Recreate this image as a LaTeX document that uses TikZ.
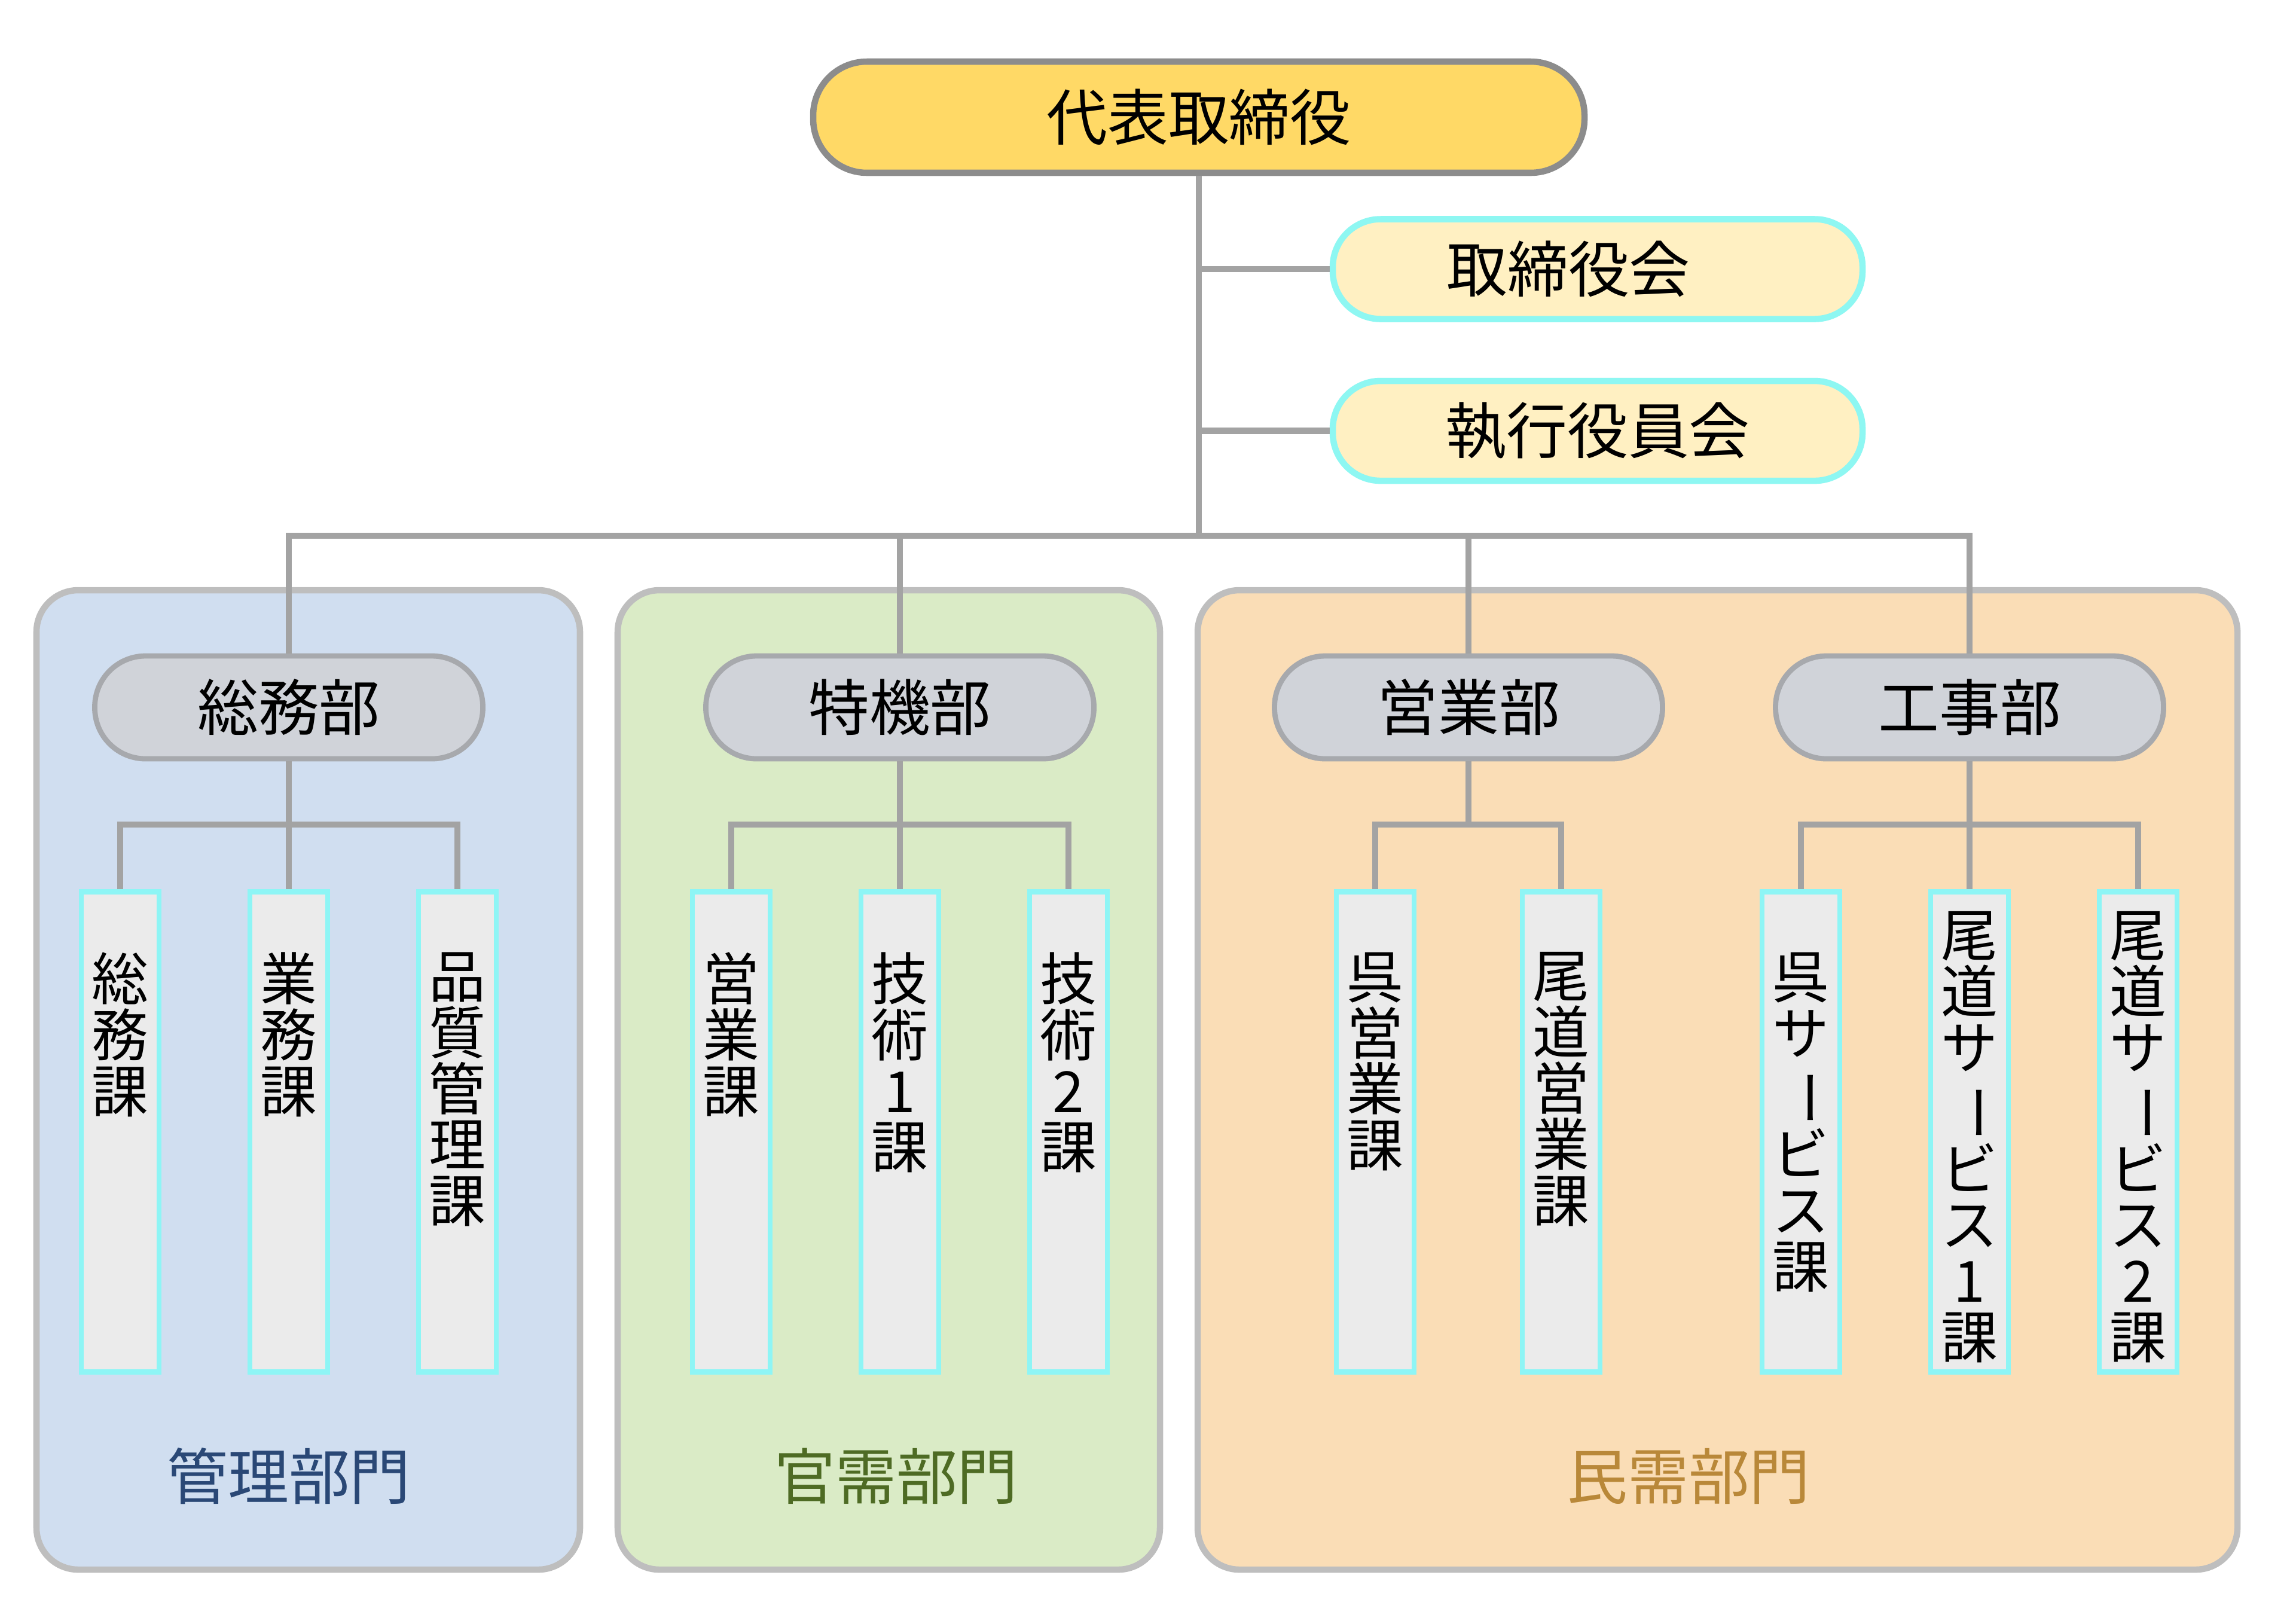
\documentclass[tikz,border=0pt]{standalone}
\usepackage{fontspec}
\setmainfont{Noto Sans CJK JP}
\usepackage{graphicx}
\usetikzlibrary{positioning}

\definecolor{ceofill}{HTML}{FFD966}
\definecolor{ceoline}{HTML}{8C8C8C}
\definecolor{boardfill}{HTML}{FFF0C2}
\definecolor{boardline}{HTML}{8EF7F2}
\definecolor{deptfill}{HTML}{D0D3D9}
\definecolor{deptline}{HTML}{A7A9AD}
\definecolor{sectfill}{HTML}{EBEBEB}
\definecolor{sectline}{HTML}{8EF5F5}
\definecolor{groupline}{HTML}{BEBEBE}
\definecolor{linegray}{HTML}{A3A3A3}
\definecolor{kanribg}{HTML}{D0DEF0}
\definecolor{kanjubg}{HTML}{DAEBC6}
\definecolor{minjubg}{HTML}{FADDB6}
\definecolor{kanritext}{HTML}{2A4876}
\definecolor{kanjutext}{HTML}{4E6B24}
\definecolor{minjutext}{HTML}{B98839}

\newcommand{\choon}{\rotatebox[origin=c]{-90}{ー}}

\begin{document}
\begin{tikzpicture}[
        ceo/.style={rectangle, rounded corners=0.9cm, fill=ceofill, draw=ceoline, line width=3pt,
            minimum width=12.9cm, minimum height=1.86cm, font=\fontsize{29}{30}\selectfont},
        board/.style={rectangle, rounded corners=0.8cm, fill=boardfill, draw=boardline, line width=3pt,
            minimum width=8.86cm, minimum height=1.67cm, font=\fontsize{29}{30}\selectfont},
        dept/.style={rectangle, rounded corners=0.85cm, fill=deptfill, draw=deptline, line width=2.5pt,
            minimum width=6.49cm, minimum height=1.72cm, font=\fontsize{29}{30}\selectfont},
        sect/.style={rectangle, fill=sectfill, draw=sectline, line width=2.5pt,
            minimum width=1.3cm, minimum height=8.03cm, anchor=north},
        vtxt/.style={align=center, inner sep=0pt, font=\fontsize{27}{26.7}\selectfont},
        group/.style={rounded corners=0.7cm, draw=groupline, line width=3pt},
        glabel/.style={font=\fontsize{29}{30}\selectfont},
        conn/.style={draw=linegray, line width=3pt}
        ]
        \useasboundingbox (0,0) rectangle (38.4,-27.15);
        \fill[white] (0,0) rectangle (38.4,-27.15);

        \draw[group, fill=kanribg] (0.61,-9.87) rectangle (9.70,-26.25);
        \draw[group, fill=kanjubg] (10.33,-9.87) rectangle (19.40,-26.25);
        \draw[group, fill=minjubg] (20.03,-9.87) rectangle (37.42,-26.25);

        \node (ceo) [ceo] at (20.05,-1.96) {代表取締役};
        \node (bd1) [board] at (26.72,-4.50) {取締役会\hspace*{0.98cm}\mbox{}};
        \node (bd2) [board, below=0.93cm of bd1] {執行役員会};
        \coordinate (hub) at (ceo.south |- 0,-8.96);
        \draw[conn] (ceo.south) -- (hub);
        \draw[conn] (bd1.west) -- (bd1.west -| hub);
        \draw[conn] (bd2.west) -- (bd2.west -| hub);

        \node (d1) [dept] at (4.83,-11.83) {総務部};
        \node (d2) [dept] at (15.05,-11.83) {特機部};
        \node (d3) [dept] at (24.56,-11.83) {営業部};
        \node (d4) [dept] at (32.94,-11.83) {工事部};
        \draw[conn] (d1.north) |- (hub) -| (d4.north);
        \draw[conn] (d2.north) -- (d2.north |- hub);
        \draw[conn] (d3.north) -- (d3.north |- hub);

        \node (s11) [sect] at (2.01,-14.87) {};
        \node (s12) [sect] at (4.83,-14.87) {};
        \node (s13) [sect] at (7.65,-14.87) {};
        \node (t11) [vtxt, below=1.05cm of s11.north] {総\\務\\課};
        \node (t12) [vtxt, below=1.05cm of s12.north] {業\\務\\課};
        \node (t13) [vtxt, below=1.05cm of s13.north] {品\\質\\管\\理\\課};
        \coordinate (j1) at (d1.south |- 0,-13.79);
        \draw[conn] (d1.south) -- (j1);
        \draw[conn] (s11.north) |- (j1) -| (s13.north);
        \draw[conn] (s12.north) -- (j1);

        \node (s21) [sect] at (12.23,-14.87) {};
        \node (s22) [sect] at (15.05,-14.87) {};
        \node (s23) [sect] at (17.87,-14.87) {};
        \node (t21) [vtxt, below=1.05cm of s21.north] {営\\業\\課};
        \node (t22) [vtxt, below=1.05cm of s22.north] {技\\術\\1\\課};
        \node (t23) [vtxt, below=1.05cm of s23.north] {技\\術\\2\\課};
        \coordinate (j2) at (d2.south |- 0,-13.79);
        \draw[conn] (d2.south) -- (j2);
        \draw[conn] (s21.north) |- (j2) -| (s23.north);
        \draw[conn] (s22.north) -- (j2);

        \node (s31) [sect] at (23.00,-14.87) {};
        \node (s32) [sect] at (26.11,-14.87) {};
        \node (t31) [vtxt, below=1.05cm of s31.north] {呉\\営\\業\\課};
        \node (t32) [vtxt, below=1.05cm of s32.north] {尾\\道\\営\\業\\課};
        \coordinate (j3) at (d3.south |- 0,-13.79);
        \draw[conn] (d3.south) -- (j3);
        \draw[conn] (s31.north) |- (j3) -| (s32.north);

        \node (s41) [sect] at (30.12,-14.87) {};
        \node (s42) [sect] at (32.94,-14.87) {};
        \node (s43) [sect] at (35.76,-14.87) {};
        \node (t41) [vtxt, below=1.05cm of s41.north] {呉\\サ\\\choon\\ビ\\ス\\課};
        \node (t42) [vtxt, below=0.37cm of s42.north] {尾\\道\\サ\\\choon\\ビ\\ス\\1\\課};
        \node (t43) [vtxt, below=0.37cm of s43.north] {尾\\道\\サ\\\choon\\ビ\\ス\\2\\課};
        \coordinate (j4) at (d4.south |- 0,-13.79);
        \draw[conn] (d4.south) -- (j4);
        \draw[conn] (s41.north) |- (j4) -| (s43.north);
        \draw[conn] (s42.north) -- (j4);

        \node (g1) [glabel, text=kanritext] at (4.83,-24.69) {管理部門};
        \node (g2) [glabel, text=kanjutext] at (14.99,-24.69) {官需部門};
        \node (g3) [glabel, text=minjutext] at (28.24,-24.69) {民需部門};
    \end{tikzpicture}
\end{document}
